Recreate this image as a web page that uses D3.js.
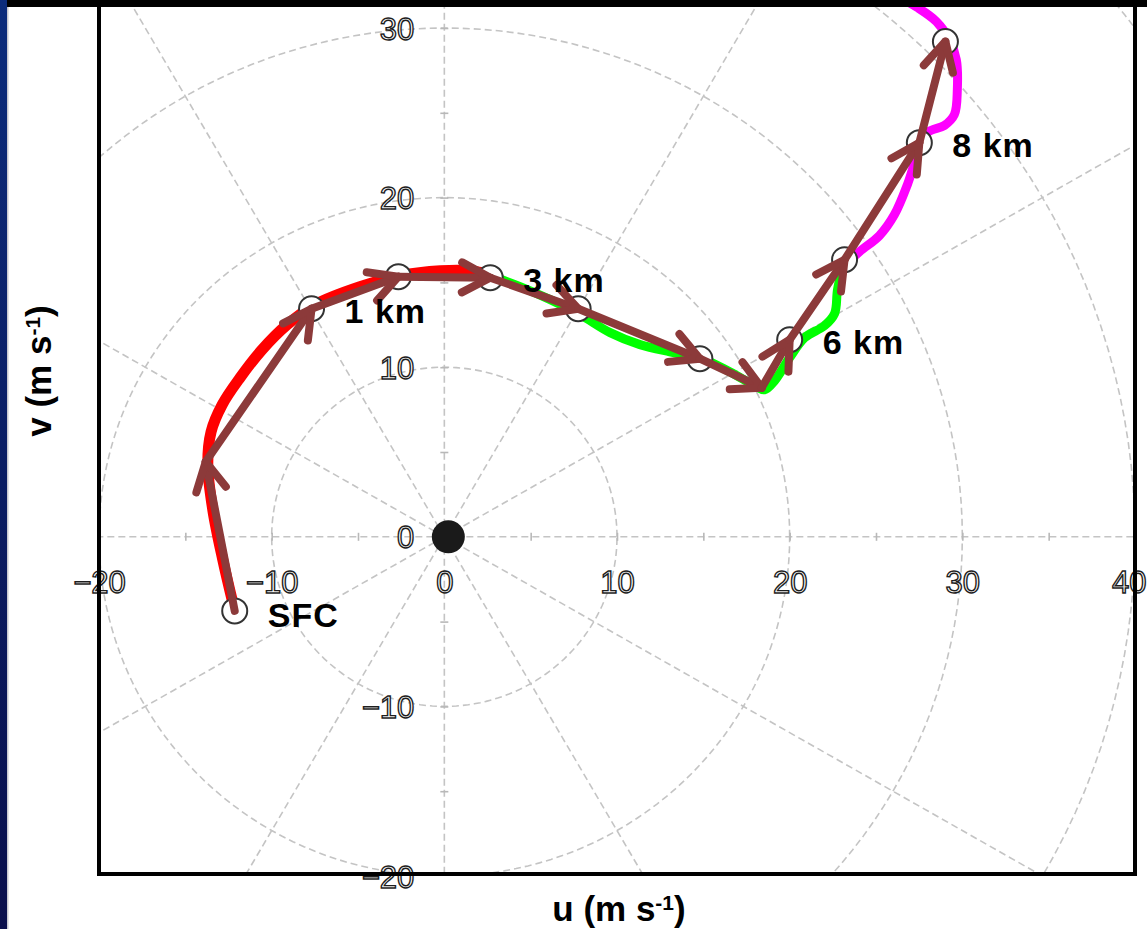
<!DOCTYPE html>
<html><head><meta charset="utf-8">
<script src="https://cdn.jsdelivr.net/npm/d3@7"></script>
<style>html,body{margin:0;padding:0;background:#fff;overflow:hidden}</style>
</head><body><svg id="c" width="1147" height="929"></svg>
<script>
// ---- data (m/s) ----
const obsKm = [0,1,2,3,4,5,6,7,8,9];
const obsU = [-12.14,-7.69,-2.66,2.66,7.75,14.80,20.0,23.18,27.51,29.02];
const obsV = [-4.37,13.45,15.34,15.28,13.45,10.50,11.62,16.34,23.24,29.20];
const obsLabel = ["SFC","1 km","","3 km","","","6 km","","8 km",""];

const arrowU = [-12.14,-13.82,-7.69,-2.66,2.66,7.75,14.80,18.38,20.0,23.18,27.51,29.02];
const arrowV = [-4.37,4.42,13.45,15.34,15.28,13.45,10.50,8.79,11.62,16.34,23.24,29.20];

const redU = [-12.25,-12.83,-13.41,-13.70,-13.51,-12.87,-11.83,-10.56,-9.11,-7.49,-4.89,-2.54,-0.23,1.50,2.66];
const redV = [-3.89,-1.36,1.59,4.25,6.19,7.78,9.38,11.03,12.50,13.68,14.74,15.40,15.69,15.69,15.46];
const greenU = [2.66,4.39,6.13,7.86,9.60,11.33,13.06,14.80,16.53,17.98,18.55,19.13,20.0,20.87,22.02,22.60,22.77,23.06];
const greenV = [15.40,14.75,13.98,13.10,12.04,11.33,10.91,10.56,9.73,8.91,8.67,9.20,10.56,11.74,12.45,13.16,14.57,15.87];
const magU = [23.06,24.05,25.20,26.07,26.82,27.40,27.98,28.96,29.54,29.71,29.65,29.25,28.50,27.40,26.36];
const magV = [15.87,16.81,17.76,19.00,20.77,22.54,23.83,24.25,24.90,26.37,28.14,29.32,30.38,31.21,31.80];

const uTicks = [-20,-10,0,10,20,30,40];
const vTicks = [-20,-10,0,10,20,30];
const minorTicks = [-20,-15,-10,-5,0,5,10,15,20,25,30,35,40];
const ringRadii = [10,20,30,40,50,60];
const spokeAngles = [0,30,60,90,120,150,180,210,240,270,300,330];

// ---- layout ----
const svg = d3.select("#c");
const W = 1147, H = 929;
const x = d3.scaleLinear().domain([-20,40]).range([99,1135]);
const y = d3.scaleLinear().domain([-20,30]).range([876,28]);
const plot = {l:99, r:1135, t:0, b:874};

svg.append("rect").attr("width",W).attr("height",H).attr("fill","#fff");

const defs = svg.append("defs");
defs.append("clipPath").attr("id","clip").append("rect")
  .attr("x",plot.l).attr("y",plot.t).attr("width",plot.r-plot.l).attr("height",plot.b-plot.t);
const gr = defs.append("linearGradient").attr("id","blue").attr("x1",0).attr("y1",0).attr("x2",0).attr("y2",1);
gr.append("stop").attr("offset","0%").attr("stop-color","#0c2c7c");
gr.append("stop").attr("offset","100%").attr("stop-color","#0a0f4c");

const g = svg.append("g").attr("clip-path","url(#clip)");
const gridCol = "#c4c4c4";

// rings
const ringLine = d3.line().x(d=>x(d[0])).y(d=>y(d[1]));
ringRadii.forEach(r=>{
  const pts = d3.range(0,361,2).map(a=>[r*Math.cos(a*Math.PI/180), r*Math.sin(a*Math.PI/180)]);
  g.append("path").attr("d",ringLine(pts)).attr("fill","none")
    .attr("stroke",gridCol).attr("stroke-width",1.6).attr("stroke-dasharray","7,4");
});
// spokes
spokeAngles.forEach(a=>{
  const R = 80;
  g.append("line").attr("x1",x(0)).attr("y1",y(0))
    .attr("x2",x(R*Math.cos(a*Math.PI/180))).attr("y2",y(R*Math.sin(a*Math.PI/180)))
    .attr("stroke",gridCol).attr("stroke-width",1.6).attr("stroke-dasharray","7,4");
});

// tick marks crossing axes
const xt = g.append("g").attr("transform",`translate(0,${y(0)-4})`)
  .call(d3.axisBottom(x).tickValues(minorTicks).tickSize(8).tickFormat(""));
xt.select(".domain").remove();
xt.selectAll("line").attr("stroke","#b8b8b8").attr("stroke-width",1.6);
const yt = g.append("g").attr("transform",`translate(${x(0)+4},0)`)
  .call(d3.axisLeft(y).tickValues(minorTicks.filter(v=>v<=30)).tickSize(8).tickFormat(""));
yt.select(".domain").remove();
yt.selectAll("line").attr("stroke","#b8b8b8").attr("stroke-width",1.6);

// tick labels
const labStyle = sel => sel.attr("font-family","'Liberation Sans', Arial, sans-serif")
  .attr("font-size",31).attr("fill","#ffffff").attr("stroke","#1e1e1e").attr("stroke-width",1.4)
  .attr("paint-order","fill");
const xa = svg.append("g").attr("transform",`translate(0,${y(0)})`)
  .call(d3.axisBottom(x).tickValues(uTicks).tickSize(0).tickFormat(d3.format("d")));
xa.select(".domain").remove();
xa.selectAll("text").attr("y",45).attr("dy","0.36em").call(labStyle)
  .filter(d=>d===40).attr("text-anchor","end").attr("x",11);
const ya = svg.append("g").attr("transform",`translate(${x(0)},0)`)
  .call(d3.axisLeft(y).tickValues(vTicks).tickSize(0).tickFormat(d3.format("d")));
ya.select(".domain").remove();
ya.selectAll("text").attr("x",-30).attr("dy","0.36em").attr("text-anchor","end").call(labStyle);

// hodograph trace
const trace = d3.line().x(d=>x(d[0])).y(d=>y(d[1])).curve(d3.curveCatmullRom.alpha(0.5));
[[redU,redV,"#ff0000",11],[greenU,greenV,"#00ff00",9],[magU,magV,"#ff00ff",9]].forEach(([U,V,c,w])=>{
  g.append("path").attr("d",trace(U.map((u,i)=>[u,V[i]])))
    .attr("fill","none").attr("stroke",c).attr("stroke-width",w)
    .attr("stroke-linecap","round").attr("stroke-linejoin","round");
});

// observation circles
g.selectAll("circle.obs").data(obsKm).enter().append("circle").attr("class","obs")
  .attr("cx",(d,i)=>x(obsU[i])).attr("cy",(d,i)=>y(obsV[i])).attr("r",12.5)
  .attr("fill","#fff").attr("stroke","#333").attr("stroke-width",2);

// shear arrows
const arrowCol = "#8c3a3a";
const aG = g.append("g").attr("stroke",arrowCol).attr("stroke-width",8)
  .attr("stroke-linecap","round").attr("fill","none");
for(let i=1;i<arrowU.length;i++){
  const x0=x(arrowU[i-1]), y0=y(arrowV[i-1]), x1=x(arrowU[i]), y1=y(arrowV[i]);
  const ang = Math.atan2(y1-y0,x1-x0), L=32, th=28*Math.PI/180;
  aG.append("line").attr("x1",x0).attr("y1",y0).attr("x2",x1).attr("y2",y1);
  aG.append("path").attr("stroke-linejoin","round").attr("d",
    `M${x1-L*Math.cos(ang-th)},${y1-L*Math.sin(ang-th)}L${x1},${y1}L${x1-L*Math.cos(ang+th)},${y1-L*Math.sin(ang+th)}`);
}

// origin dot
g.append("circle").attr("cx",x(0)+4).attr("cy",y(0)).attr("r",16.5).attr("fill","#1a1a1a");

// height labels
svg.selectAll("text.km").data(obsKm.filter((d,i)=>obsLabel[i])).enter().append("text").attr("class","km")
  .attr("x",d=>x(obsU[d])+33).attr("y",d=>y(obsV[d])+(d===0?4:2)).attr("dy","0.36em")
  .attr("font-family","'Liberation Sans', Arial, sans-serif").attr("font-weight","bold").attr("font-size",34)
  .attr("letter-spacing",1).attr("fill","#000").text(d=>obsLabel[d]);

// frame
svg.append("path").attr("d",`M${plot.l},0V${plot.b}H${plot.r}V0`)
  .attr("fill","none").attr("stroke","#000").attr("stroke-width",4);

// axis titles
const title = (sel, base) => { sel.append("tspan").text(base);
  sel.append("tspan").attr("font-size","60%").attr("baseline-shift","super").text("-1");
  sel.append("tspan").text(")"); };
svg.append("text").attr("x",619).attr("y",921).attr("text-anchor","middle")
  .attr("font-family","'Liberation Sans', Arial, sans-serif").attr("font-weight","bold").attr("font-size",35)
  .attr("fill","#000").call(title,"u (m s");
svg.append("text").attr("transform","translate(51,371) rotate(-90)").attr("text-anchor","middle")
  .attr("font-family","'Liberation Sans', Arial, sans-serif").attr("font-weight","bold").attr("font-size",35)
  .attr("fill","#000").call(title,"v (m s");

// slide edges
svg.append("rect").attr("x",0).attr("y",0).attr("width",7).attr("height",H).attr("fill","url(#blue)");
svg.append("rect").attr("x",7).attr("y",0).attr("width",1.5).attr("height",H).attr("fill","#c8c8d0");
svg.append("rect").attr("x",7).attr("y",0).attr("width",W-7).attr("height",7).attr("fill","#000");
</script></body></html>
